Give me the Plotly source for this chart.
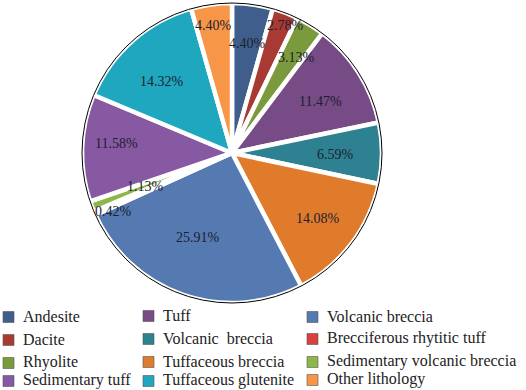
import math
import plotly.graph_objects as go

labels = ["Andesite", "Dacite", "Rhyolite", "Tuff", "Volcanic  breccia",
          "Tuffaceous breccia", "Volcanic breccia", "Brecciferous rhytitic tuff",
          "Sedimentary volcanic breccia", "Sedimentary tuff", "Tuffaceous glutenite",
          "Other lithology"]
values = [4.40, 2.78, 3.13, 11.47, 6.59, 14.08, 25.91, 0.42, 1.13, 11.58, 14.32, 4.40]
colors = ["#3F5E8C", "#A83A33", "#7A9A3D", "#774B86", "#2D8190", "#E07B2C",
          "#5579B1", "#D8413E", "#8DB849", "#8759A3", "#1FA7BF", "#F79646"]

# legend layout (column-major, as in the reference)
legend_columns = [
    ["Andesite", "Dacite", "Rhyolite", "Sedimentary tuff"],
    ["Tuff", "Volcanic  breccia", "Tuffaceous breccia", "Tuffaceous glutenite"],
    ["Volcanic breccia", "Brecciferous rhytitic tuff", "Sedimentary volcanic breccia", "Other lithology"],
]

# where each percentage label sits, as a fraction of the radius (layout only)
label_radius = [0.74, 0.92, 0.77, 0.68, 0.69, 0.72, 0.61, 0.88, 0.62, 0.77, 0.67, 0.86]
label_turn = [0, 1.8, 2.5, 2.3, 1.0, 0, 2.8, -2.5, 0, 3.0, -3.0, -0.5]

W, H = 526, 390
cx, cy, r = 232, 153, 150

dom = dict(x=[(cx - r) / W, (cx + r) / W], y=[1 - (cy + r) / H, 1 - (cy - r) / H])

fig = go.Figure()
fig.add_trace(go.Pie(
    labels=labels, values=values, sort=False, direction="clockwise", rotation=0,
    marker=dict(colors=colors, line=dict(color="white", width=4.5)),
    textinfo="none", domain=dom, showlegend=False, hoverinfo="label+value",
))
fig.add_trace(go.Pie(
    values=[1], labels=["outline"], sort=False,
    marker=dict(colors=["rgba(0,0,0,0)"], line=dict(color="black", width=1)),
    textinfo="none", hoverinfo="skip", domain=dom, showlegend=False,
))

# percentage labels placed at each slice's mid-angle
total = sum(values)
cum = 0.0
for v, rf, turn in zip(values, label_radius, label_turn):
    mid = (cum + v / 2) / total * 360 + turn
    cum += v
    th = math.radians(mid)
    px = cx + rf * r * math.sin(th)
    py = cy - rf * r * math.cos(th)
    fig.add_annotation(xref="paper", yref="paper", x=px / W, y=1 - py / H,
                       xanchor="center", yanchor="middle", showarrow=False,
                       text=f"{v:.2f}%",
                       font=dict(family="Liberation Serif", size=14, color="#1c2030"))

col_x = [3, 143, 307]
row_y = [[317, 340, 363, 381], [316, 339, 362, 381], [317, 339, 362, 380]]
color_of = dict(zip(labels, colors))
for ci, col in enumerate(legend_columns):
    for ri, name in enumerate(col):
        x0 = col_x[ci]
        yc = row_y[ci][ri]
        fig.add_shape(type="rect", xref="paper", yref="paper",
                      x0=x0 / W, x1=(x0 + 11) / W,
                      y0=1 - (yc + 5.5) / H, y1=1 - (yc - 5.5) / H,
                      fillcolor=color_of[name], line=dict(color="#555", width=0.6))
        fig.add_annotation(xref="paper", yref="paper", x=(x0 + 18) / W, y=1 - (yc - 1) / H,
                           xanchor="left", yanchor="middle", showarrow=False,
                           text=name.replace("  ", "&nbsp; "),
                           font=dict(family="Liberation Serif", size=16, color="#222"))

fig.update_layout(
    width=W, height=H, margin=dict(l=0, r=0, t=0, b=0),
    paper_bgcolor="white", plot_bgcolor="white",
)
fig.write_html("out.html", config={"displayModeBar": False},
               post_script="document.body.style.margin='0';")
